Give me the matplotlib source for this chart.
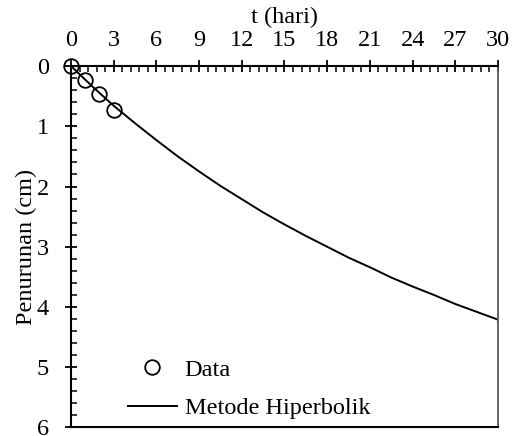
import matplotlib.pyplot as plt
from matplotlib.ticker import MultipleLocator

plt.rcParams['font.family'] = ['Liberation Serif', 'DejaVu Serif']

# data pengamatan
t_data = [0, 1, 2, 3]
s_data = [0, 0.24, 0.46, 0.73]

# kurva metode hiperbolik
t_hip = [0, 1.5, 3, 4.5, 6, 7.5, 9, 10.5, 12, 13.5, 15, 16.5, 18, 19.5,
         21, 22.5, 24, 25.5, 27, 28.5, 30]
s_hip = [0, 0.34, 0.66, 0.95, 1.23, 1.50, 1.75, 1.99, 2.21, 2.43, 2.63,
         2.82, 3.00, 3.18, 3.34, 3.51, 3.66, 3.80, 3.95, 4.08, 4.21]

x_ticks = [0, 3, 6, 9, 12, 15, 18, 21, 24, 27, 30]
y_ticks = [0, 1, 2, 3, 4, 5, 6]

fs = 17.5

fig = plt.figure(figsize=(5.21, 4.36), dpi=100)
ax = fig.add_axes([0.1363, 0.0195, 0.8195, 0.8291])

ax.plot(t_data, s_data, 'o', markerfacecolor='none', markeredgecolor='black',
        markersize=10.5, markeredgewidth=1.3, label='Data', zorder=3, clip_on=False)
ax.plot(t_hip, s_hip, color='black', linewidth=1.4, label='Metode Hiperbolik')

ax.set_xlim(0, 30)
ax.set_ylim(6, 0)
ax.set_xticks(x_ticks)
ax.set_yticks(y_ticks)
ax.xaxis.set_minor_locator(MultipleLocator(0.6))
ax.yaxis.set_minor_locator(MultipleLocator(0.2))
ax.xaxis.tick_top()
ax.xaxis.set_label_position('top')
ax.tick_params(which='major', direction='inout', length=8, width=1.3, labelsize=fs)
ax.tick_params(axis='x', which='major', pad=7)
ax.tick_params(axis='y', which='major', pad=12)
ax.tick_params(which='minor', direction='in', length=4, width=1.1)

ax.set_xlabel('t (hari)', fontsize=fs, labelpad=5)
ax.set_ylabel('Penurunan (cm)', fontsize=fs, labelpad=0)

for side in ['left', 'top', 'bottom']:
    ax.spines[side].set_linewidth(1.5)
    ax.spines[side].set_color('black')
ax.spines['right'].set_linewidth(1.3)
ax.spines['right'].set_color('#595959')

ax.legend(loc='lower left', bbox_to_anchor=(0.105, -0.011), frameon=False,
          fontsize=fs, handlelength=2.0, handletextpad=0.33, labelspacing=0.68,
          borderpad=0)

plt.savefig('out.png', dpi=100)
